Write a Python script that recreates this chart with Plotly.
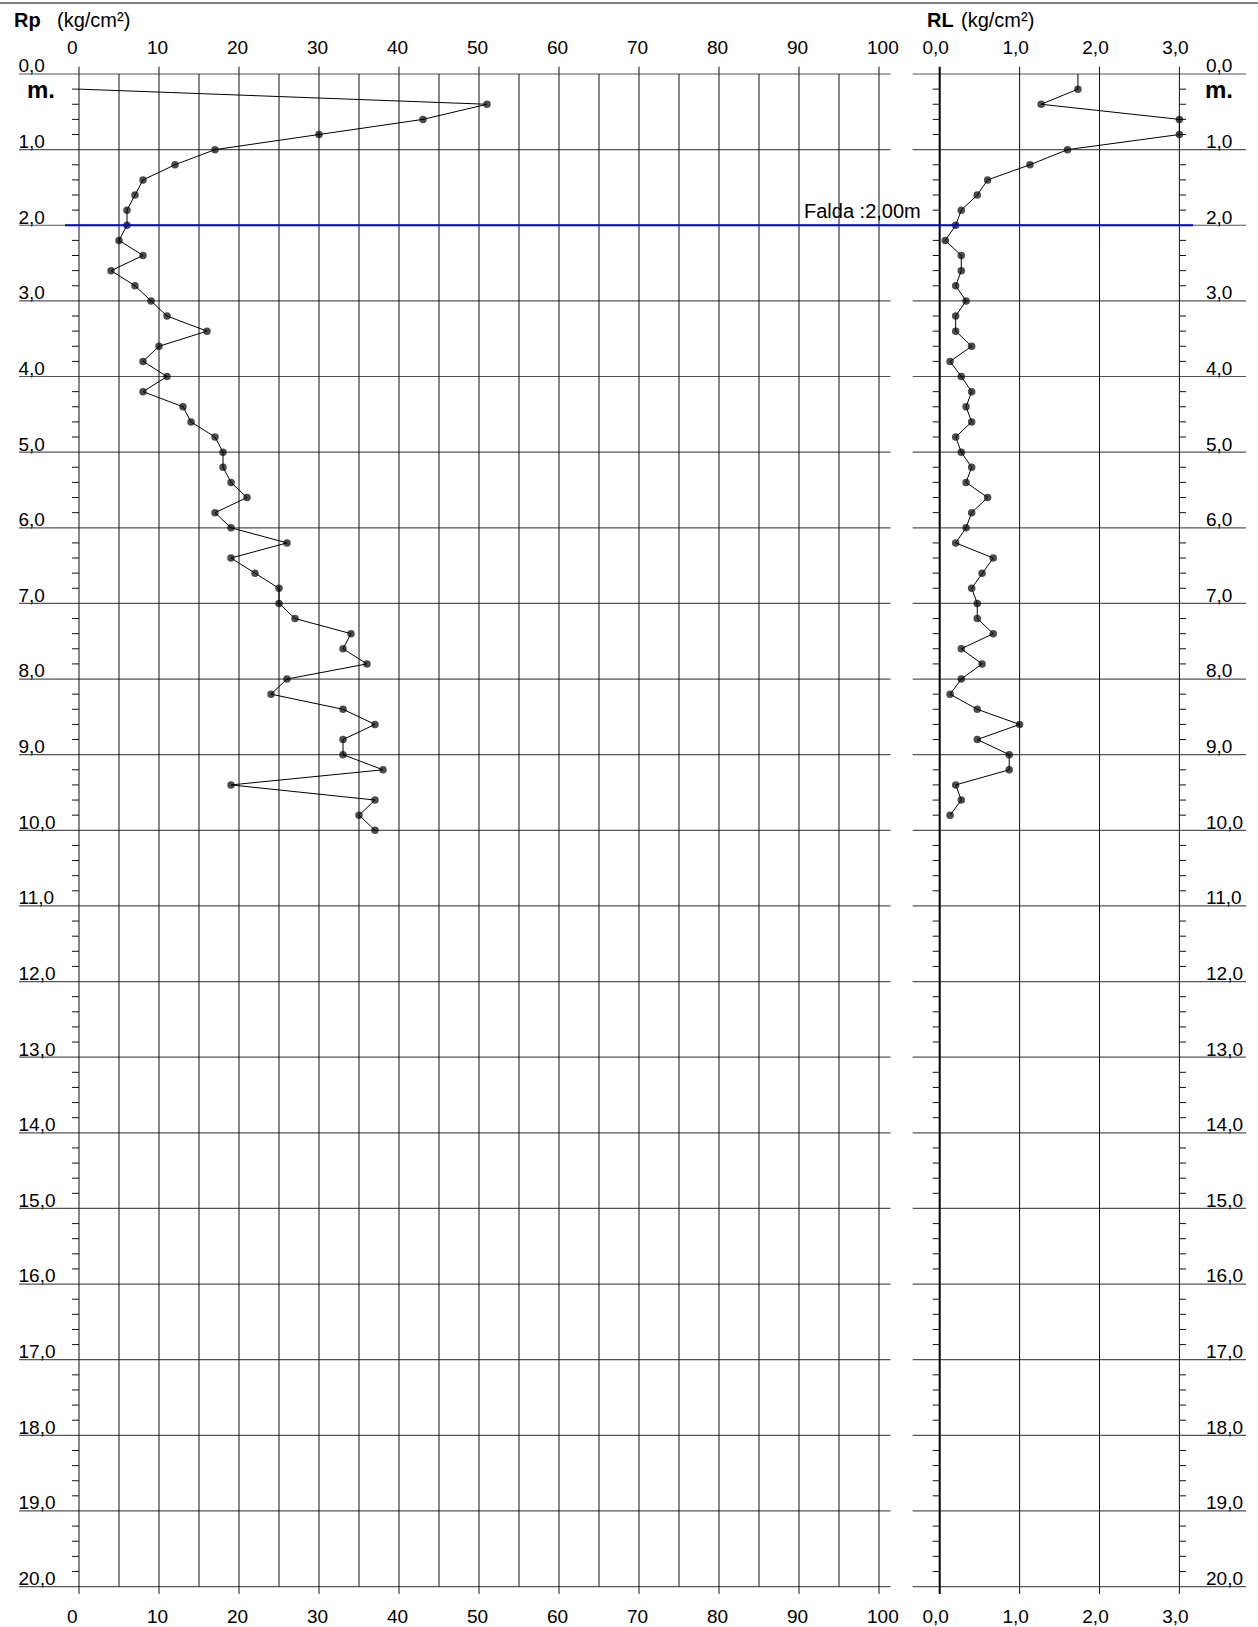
import plotly.graph_objects as go

# ---------------------------------------------------------------- data ----
# Cone resistance Rp (kg/cm2) every 0.2 m
rp_depth = [0.2, 0.4, 0.6, 0.8, 1.0, 1.2, 1.4, 1.6, 1.8, 2.0,
            2.2, 2.4, 2.6, 2.8, 3.0, 3.2, 3.4, 3.6, 3.8, 4.0,
            4.2, 4.4, 4.6, 4.8, 5.0, 5.2, 5.4, 5.6, 5.8, 6.0,
            6.2, 6.4, 6.6, 6.8, 7.0, 7.2, 7.4, 7.6, 7.8, 8.0,
            8.2, 8.4, 8.6, 8.8, 9.0, 9.2, 9.4, 9.6, 9.8, 10.0]
rp_value = [0, 51, 43, 30, 17, 12, 8, 7, 6, 6,
            5, 8, 4, 7, 9, 11, 16, 10, 8, 11,
            8, 13, 14, 17, 18, 18, 19, 21, 17, 19,
            26, 19, 22, 25, 25, 27, 34, 33, 36, 26,
            24, 33, 37, 33, 33, 38, 19, 37, 35, 37]

# Lateral friction RL (kg/cm2)
rl_depth = [0.0, 0.2, 0.4, 0.6, 0.8, 1.0, 1.2, 1.4, 1.6, 1.8,
            2.0, 2.2, 2.4, 2.6, 2.8, 3.0, 3.2, 3.4, 3.6, 3.8,
            4.0, 4.2, 4.4, 4.6, 4.8, 5.0, 5.2, 5.4, 5.6, 5.8,
            6.0, 6.2, 6.4, 6.6, 6.8, 7.0, 7.2, 7.4, 7.6, 7.8,
            8.0, 8.2, 8.4, 8.6, 8.8, 9.0, 9.2, 9.4, 9.6, 9.8]
rl_value = [1.73, 1.73, 1.27, 3.00, 3.00, 1.60, 1.13, 0.60, 0.47, 0.27,
            0.20, 0.07, 0.27, 0.27, 0.20, 0.33, 0.20, 0.20, 0.40, 0.13,
            0.27, 0.40, 0.33, 0.40, 0.20, 0.27, 0.40, 0.33, 0.60, 0.40,
            0.33, 0.20, 0.67, 0.53, 0.40, 0.47, 0.47, 0.67, 0.27, 0.53,
            0.27, 0.13, 0.47, 1.00, 0.47, 0.87, 0.87, 0.20, 0.27, 0.13]

# water table
falda_depth = 2.0
falda_label = "Falda :2,00m"

# axis ticks
rp_ticks = [0, 10, 20, 30, 40, 50, 60, 70, 80, 90, 100]
rp_grid = [0, 5, 10, 15, 20, 25, 30, 35, 40, 45, 50, 55, 60, 65, 70, 75, 80, 85, 90, 95, 100]
rl_ticks = [0, 1, 2, 3]
depth_ticks = list(range(0, 21))
depth_minor = [i / 5 for i in range(1, 101) if i % 5]

# ------------------------------------------------------------ geometry ----
W, H = 1258, 1627
Y0, PXM = 74.0, 75.63          # pixel row of depth 0, pixels per metre
RP0, RPS = 79.0, 8.0           # pixel column of Rp = 0, pixels per unit
RL0, RLS = 939.7, 79.9         # pixel column of RL = 0, pixels per unit
SPLIT = 900.0                  # boundary between the two panels

FONT = "Liberation Sans, Arial, Helvetica, sans-serif"
EXT = 7.3 / PXM                # major lines overshoot the 0-20 m frame


def rp_at(px):
    return (px - RP0) / RPS


def rl_at(px):
    return (px - RL0) / RLS


def py(px):
    return 1 - px / H


def segments(pairs):
    xs, ys = [], []
    for (xa, ya), (xb, yb) in pairs:
        xs += [xa, xb, None]
        ys += [ya, yb, None]
    return xs, ys


def line_trace(pairs, xaxis, color, width):
    xs, ys = segments(pairs)
    return go.Scatter(x=xs, y=ys, xaxis=xaxis, yaxis="y", mode="lines",
                      line=dict(color=color, width=width),
                      hoverinfo="skip", showlegend=False)


fig = go.Figure()

# ---- Rp panel frame
fig.add_trace(line_trace(
    [((rp_at(19), d), (rp_at(890.5), d)) for d in depth_ticks], "x", "#555555", 1.2))
fig.add_trace(line_trace(
    [((v, -EXT if v % 10 == 0 else 0), (v, 20 + EXT if v % 10 == 0 else 20)) for v in rp_grid],
    "x", "#111111", 1))
fig.add_trace(line_trace(
    [((rp_at(72), d), (0, d)) for d in depth_minor], "x", "#111111", 1))

# ---- RL panel frame
fig.add_trace(line_trace(
    [((rl_at(912.7), d), (rl_at(1246), d)) for d in depth_ticks], "x2", "#555555", 1.2))
fig.add_trace(line_trace(
    [((v, -EXT), (v, 20 + EXT)) for v in rl_ticks[1:]], "x2", "#111111", 1))
fig.add_trace(line_trace(
    [((0, -EXT), (0, 20 + EXT))], "x2", "#000000", 2))
fig.add_trace(line_trace(
    [((rl_at(932.7), d), (0, d)) for d in depth_minor] +
    [((3, d), (rl_at(1186), d)) for d in depth_minor], "x2", "#111111", 1))

# ---- soundings
fig.add_trace(go.Scatter(
    x=rp_value, y=rp_depth, xaxis="x", yaxis="y", mode="lines+markers",
    line=dict(color="black", width=1),
    marker=dict(color="black", size=[0] + [7.5] * (len(rp_value) - 1), line=dict(width=0)),
    hoverinfo="skip", showlegend=False))
fig.add_trace(go.Scatter(
    x=rl_value, y=rl_depth, xaxis="x2", yaxis="y", mode="lines+markers",
    line=dict(color="black", width=1),
    marker=dict(color="black", size=[0] + [7.5] * (len(rl_value) - 1), line=dict(width=0)),
    hoverinfo="skip", showlegend=False))

# label-only axes
for xa, ya in [("x3", "y"), ("x4", "y"), ("x2", "y2")]:
    fig.add_trace(go.Scatter(x=[], y=[], xaxis=xa, yaxis=ya, mode="lines",
                             hoverinfo="skip", showlegend=False))

# ---------------------------------------------------------------- axes ----
yrange = [(H - Y0) / PXM, -Y0 / PXM]
rp_range = [rp_at(0), rp_at(SPLIT)]
rl_range = [rl_at(SPLIT), rl_at(W)]

common_x = dict(showgrid=False, zeroline=False, showline=False, ticks="",
                automargin=False, fixedrange=True,
                tickfont=dict(family=FONT, size=19, color="black"))
depth_axis = dict(range=yrange, domain=[0, 1], anchor="free", side="right",
                  showgrid=False, zeroline=False, showline=False, ticks="",
                  tickmode="array", tickvals=depth_ticks, tickformat=".1f",
                  ticklabelposition="outside top", ticklabelshift=-5,
                  automargin=False, fixedrange=True,
                  tickfont=dict(family=FONT, size=19, color="black"))

fig.update_layout(
    width=W, height=H, template="none",
    margin=dict(l=0, r=0, t=0, b=0, pad=0),
    paper_bgcolor="white", plot_bgcolor="rgba(0,0,0,0)",
    separators=",.", showlegend=False,
    xaxis=dict(common_x, domain=[0, SPLIT / W], range=rp_range, anchor="free",
               position=py(58), side="top", tickmode="array", tickvals=rp_ticks,
               ticklabelposition="outside right", ticklabelshift=-12),
    xaxis3=dict(common_x, overlaying="x", range=rp_range, anchor="free",
                position=py(1603), side="bottom", tickmode="array", tickvals=rp_ticks,
                ticklabelposition="outside right", ticklabelshift=-12),
    xaxis2=dict(common_x, domain=[SPLIT / W, 1], range=rl_range, anchor="free",
                position=py(58), side="top", tickmode="array", tickvals=rl_ticks,
                tickformat=".1f", ticklabelshift=-4),
    xaxis4=dict(common_x, overlaying="x2", range=rl_range, anchor="free",
                position=py(1603), side="bottom", tickmode="array", tickvals=rl_ticks,
                tickformat=".1f", ticklabelshift=-4),
    yaxis=dict(depth_axis, position=17.5 / W),
    yaxis2=dict(depth_axis, overlaying="y", position=1205 / W),
)

# ------------------------------------------------------- shapes & text ----
fig.add_shape(type="line", xref="paper", yref="paper", x0=0, x1=1,
              y0=py(3), y1=py(3), line=dict(color="black", width=1))
fig.add_shape(type="line", xref="paper", yref="y", x0=65 / W, x1=1193 / W,
              y0=falda_depth, y1=falda_depth, line=dict(color="#0000dd", width=2))

def text(x_px, y_px, s, size, anchor="left", bold=False):
    fig.add_annotation(xref="paper", yref="paper", x=x_px / W, y=py(y_px),
                       xanchor=anchor, yanchor="middle", showarrow=False,
                       text=f"<b>{s}</b>" if bold else s,
                       font=dict(family=FONT, size=size, color="black"))

text(12, 20, "Rp", 20, bold=True)
text(55, 20, "(kg/cm²)", 20)
text(925, 20, "RL", 20, bold=True)
text(959, 20, "(kg/cm²)", 20)
text(25, 89, "m.", 24, bold=True)
text(1203, 89, "m.", 24, bold=True)
text(923, 211, falda_label, 20, anchor="right")

fig.write_html("out.html")
